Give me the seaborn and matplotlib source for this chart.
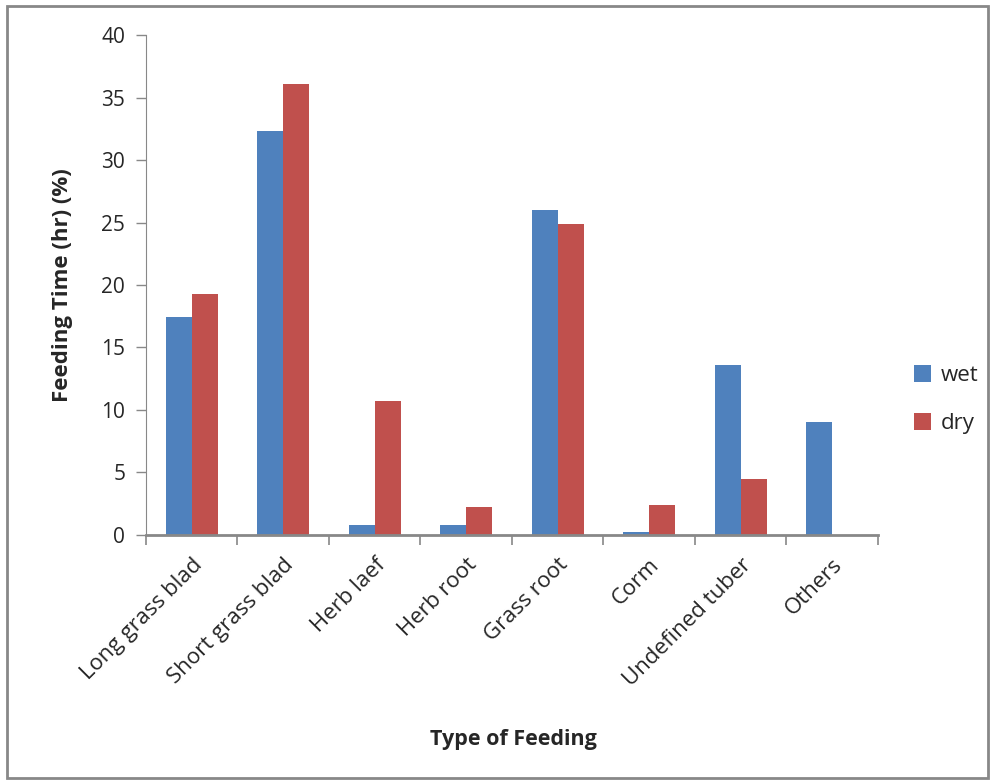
import pandas as pd
import seaborn as sns
import matplotlib.pyplot as plt
from matplotlib.patches import Rectangle

# -----------------------------
# DATA
# -----------------------------
categories = ["Long grass blad", "Short grass blad", "Herb laef", "Herb root",
              "Grass root", "Corm", "Undefined tuber", "Others"]
wet = [17.4, 32.3, 0.8, 0.8, 26.0, 0.2, 13.6, 9.0]
dry = [19.3, 36.1, 10.7, 2.2, 24.9, 2.4, 4.5, 0.0]
yticks = [0, 5, 10, 15, 20, 25, 30, 35, 40]

df = pd.DataFrame({
    "Type": categories * 2,
    "Value": wet + dry,
    "Season": ["wet"] * len(wet) + ["dry"] * len(dry),
})

sns.set_style("white")
plt.rcParams["font.family"] = ["Open Sans", "DejaVu Sans"]

fig = plt.figure(figsize=(9.93, 7.83), dpi=100)
ax = fig.add_axes([0.147, 0.317, 0.737, 0.638])

sns.barplot(data=df, x="Type", y="Value", hue="Season", order=categories,
            hue_order=["wet", "dry"], palette=["#4F81BD", "#C0504D"],
            width=0.57, saturation=1, linewidth=0, ax=ax, legend=True)

# axes styling
ax.set_ylim(0, 40)
ax.set_yticks(yticks)
ax.set_xlim(-0.5, len(categories) - 0.5)
ax.set_xticks([i - 0.5 for i in range(len(categories) + 1)], minor=False)
ax.set_xticklabels([])
ax.set_xticks(range(len(categories)), minor=True)
ax.set_xticklabels(categories, minor=True, rotation=45, ha="right",
                   rotation_mode="anchor", fontsize=16)
ax.tick_params(axis="x", which="minor", length=0, pad=14)
ax.tick_params(axis="x", which="major", length=7, width=1.2, color="#888888",
               direction="out", bottom=True)
ax.tick_params(axis="y", length=7, width=1, color="#888888", direction="out",
               left=True, labelsize=15, pad=8)

for s in ["top", "right"]:
    ax.spines[s].set_visible(False)
ax.spines["left"].set_color("#888888")
ax.spines["bottom"].set_color("#888888")
ax.spines["bottom"].set_linewidth(2)

ax.set_ylabel("Feeding Time (hr) (%)", fontsize=16, fontweight="bold", labelpad=20)
ax.set_xlabel("")
fig.text(0.517, 0.055, "Type of Feeding", fontsize=15.5, fontweight="bold",
         ha="center", va="center")

ax.legend(loc="center left", bbox_to_anchor=(0.9, 0.49),
          bbox_transform=fig.transFigure, frameon=False, fontsize=16,
          handlelength=0.8, handleheight=0.8, labelspacing=1.2, handletextpad=0.4)

# outer border
fig.patches.append(Rectangle((0.007, 0.007), 0.988, 0.985, transform=fig.transFigure,
                             fill=False, edgecolor="#888888", linewidth=2))

fig.savefig("out.png", dpi=100)
